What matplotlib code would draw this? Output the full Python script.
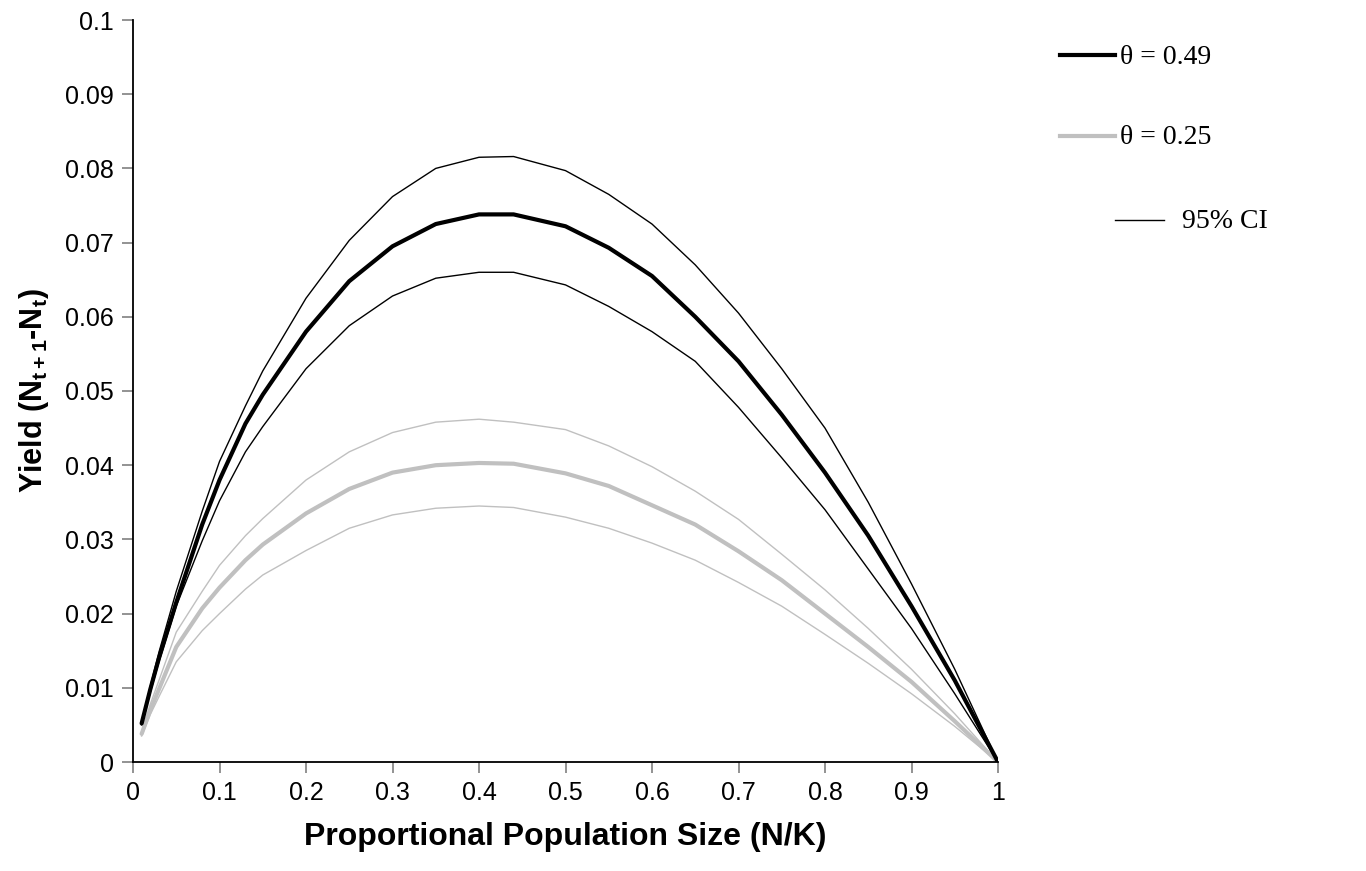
import matplotlib
matplotlib.use("Agg")
import matplotlib.pyplot as plt
from matplotlib.lines import Line2D

plt.rcParams['mathtext.fontset'] = 'custom'
plt.rcParams['mathtext.rm'] = 'Liberation Sans:bold'
plt.rcParams['mathtext.it'] = 'Liberation Sans:bold'
plt.rcParams['mathtext.bf'] = 'Liberation Sans:bold'

x = [0.01, 0.02, 0.03, 0.05, 0.08, 0.10, 0.13, 0.15, 0.20, 0.25, 0.30, 0.35,
     0.40, 0.44, 0.50, 0.55, 0.60, 0.65, 0.70, 0.75, 0.80, 0.85, 0.90, 0.95, 1.00]

theta49_mean = [0.0052, 0.0098, 0.0140, 0.0215, 0.0320, 0.0380, 0.0456, 0.0495,
                0.0580, 0.0648, 0.0695, 0.0725, 0.0738, 0.0738, 0.0722, 0.0693,
                0.0655, 0.0600, 0.0540, 0.0468, 0.0390, 0.0305, 0.0210, 0.0110, 0.0]
theta49_upper = [0.0054, 0.0102, 0.0148, 0.0230, 0.0338, 0.0405, 0.0480, 0.0527,
                 0.0625, 0.0703, 0.0762, 0.0800, 0.0815, 0.0816, 0.0797, 0.0765,
                 0.0725, 0.0670, 0.0605, 0.0530, 0.0450, 0.0350, 0.0240, 0.0125, 0.0]
theta49_lower = [0.0050, 0.0094, 0.0135, 0.0210, 0.0298, 0.0352, 0.0418, 0.0452,
                 0.0530, 0.0588, 0.0628, 0.0652, 0.0660, 0.0660, 0.0643, 0.0614,
                 0.0580, 0.0540, 0.0478, 0.0410, 0.0340, 0.0260, 0.0180, 0.0092, 0.0]

theta25_mean = [0.0038, 0.0070, 0.0098, 0.0155, 0.0207, 0.0235, 0.0272, 0.0293,
                0.0335, 0.0368, 0.0390, 0.0400, 0.0403, 0.0402, 0.0389, 0.0372,
                0.0346, 0.0320, 0.0284, 0.0245, 0.0200, 0.0155, 0.0108, 0.0055, 0.0]
theta25_upper = [0.0040, 0.0078, 0.0110, 0.0175, 0.0230, 0.0265, 0.0305, 0.0328,
                 0.0380, 0.0418, 0.0444, 0.0458, 0.0462, 0.0458, 0.0448, 0.0426,
                 0.0398, 0.0365, 0.0327, 0.0280, 0.0232, 0.0180, 0.0125, 0.0065, 0.0]
theta25_lower = [0.0035, 0.0064, 0.0088, 0.0135, 0.0177, 0.0200, 0.0233, 0.0252,
                 0.0285, 0.0315, 0.0333, 0.0342, 0.0345, 0.0343, 0.0330, 0.0315,
                 0.0295, 0.0272, 0.0242, 0.0210, 0.0172, 0.0133, 0.0092, 0.0048, 0.0]

legend_labels = ["\u03b8 = 0.49", "\u03b8 = 0.25", "95% CI"]
xticks = [0, 0.1, 0.2, 0.3, 0.4, 0.5, 0.6, 0.7, 0.8, 0.9, 1]
xticklabels = ["0", "0.1", "0.2", "0.3", "0.4", "0.5", "0.6", "0.7", "0.8", "0.9", "1"]
yticks = [0, 0.01, 0.02, 0.03, 0.04, 0.05, 0.06, 0.07, 0.08, 0.09, 0.1]
yticklabels = ["0", "0.01", "0.02", "0.03", "0.04", "0.05", "0.06", "0.07", "0.08", "0.09", "0.1"]

W, H = 1366, 871
fig = plt.figure(figsize=(W / 100, H / 100), dpi=100)
ax = fig.add_axes([133 / W, 1 - 762 / H, (998 - 133) / W, (762 - 20) / H])

grey = "#c0c0c0"
ax.plot(x, theta25_upper, color=grey, lw=1.0)
ax.plot(x, theta25_lower, color=grey, lw=1.0)
ax.plot(x, theta25_mean, color=grey, lw=3.0, solid_capstyle='round', solid_joinstyle='round')
ax.plot(x, theta49_upper, color="black", lw=1.0)
ax.plot(x, theta49_lower, color="black", lw=1.0)
ax.plot(x, theta49_mean, color="black", lw=3.0, solid_capstyle='round', solid_joinstyle='round')

ax.set_xlim(0, 1)
ax.set_ylim(0, 0.1)
ax.set_xticks(xticks)
ax.set_xticklabels(xticklabels, fontfamily="Liberation Sans", fontsize=18)
ax.set_yticks(yticks)
ax.set_yticklabels(yticklabels, fontfamily="Liberation Sans", fontsize=18)
ax.tick_params(axis='both', direction='out', length=8, width=1.2, color="#808080", pad=6)
for s in ["top", "right"]:
    ax.spines[s].set_visible(False)
for s in ["left", "bottom"]:
    ax.spines[s].set_color("black")
    ax.spines[s].set_linewidth(1.3)

ax.set_xlabel("Proportional Population Size (N/K)", fontfamily="Liberation Sans",
              fontweight="bold", fontsize=23, labelpad=12)
ax.set_ylabel(r"Yield (N$_{\rm t+1}$-N$_{\rm t}$)", fontfamily="Liberation Sans",
              fontweight="bold", fontsize=22, labelpad=10)

# legend drawn in figure pixel coordinates
def fx(px):
    return px / W

def fy(py):
    return 1 - py / H

leg = [(legend_labels[0], "black", 3.0, 1060, 1115, 1120, 57),
       (legend_labels[1], grey, 3.0, 1060, 1115, 1120, 138),
       (legend_labels[2], "black", 1.0, 1115, 1164, 1182, 222)]
for lab, col, lw, x0, x1, tx, ty in leg:
    fig.add_artist(Line2D([fx(x0), fx(x1)], [fy(ty - 2), fy(ty - 2)], color=col, lw=lw,
                          transform=fig.transFigure))
    fig.text(fx(tx), fy(ty), lab, fontfamily="Liberation Serif", fontsize=20,
             va="center", ha="left")

fig.savefig("out.png", dpi=100)
